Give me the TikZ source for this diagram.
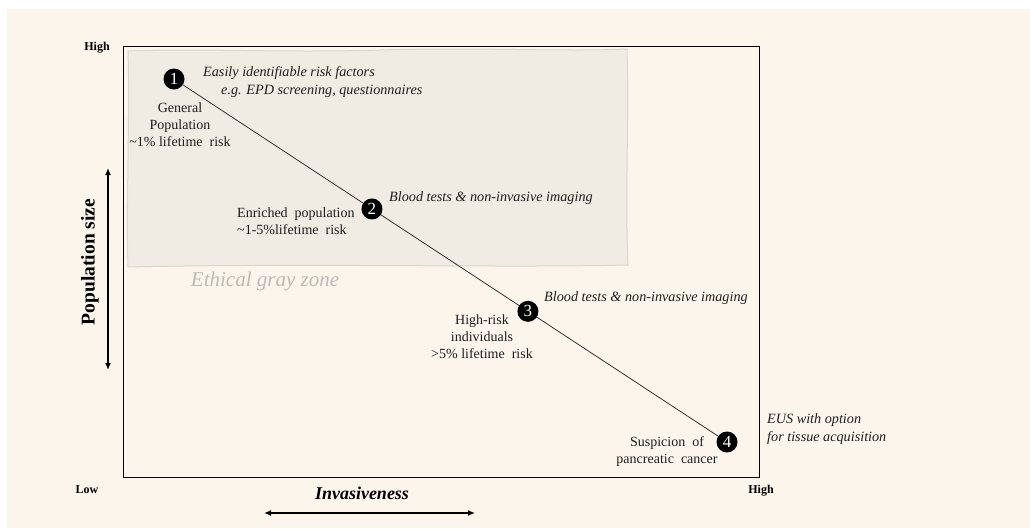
\documentclass[tikz,border=0pt]{standalone}
\usepackage{fontspec}
\setmainfont{Liberation Serif}
\usetikzlibrary{calc,arrows.meta}
\definecolor{cream}{HTML}{FBF5EC}
\definecolor{zonefill}{HTML}{F0EBE3}
\definecolor{zoneedge}{HTML}{DAD6CE}
\definecolor{zonetext}{HTML}{BDBAB5}
\definecolor{txt}{HTML}{1E1E1E}
\tikzset{
  num/.style={circle,fill=black,minimum size=21pt,inner sep=0pt,text=white,font=\fontsize{17}{17}\selectfont},
  lbl/.style={text=txt,font=\fontsize{14}{17}\selectfont,inner sep=0pt},
  ilbl/.style={text=txt,font=\fontsize{14.2}{18}\selectfont\itshape,inner sep=0pt},
  axlbl/.style={font=\fontsize{12}{14}\selectfont\bfseries,inner sep=0pt},
  bigarrow/.style={line width=2pt,{Latex[length=7pt,width=6pt]}-{Latex[length=7pt,width=6pt]}},
}
\begin{document}
\begin{tikzpicture}[x=1pt,y=-1pt]
\useasboundingbox (0,0) rectangle (1030,528);
\fill[white] (0,0) rectangle (1030,528);
\fill[cream] (7,9) rectangle (1030,528);
% gray zone
\path[fill=zonefill,draw=zoneedge,line width=1pt]
  (128,51) .. controls (200,48) and (280,53) .. (380,50)
  .. controls (480,47) and (560,52) .. (627,49)
  .. controls (629,120) and (625,200) .. (628,265)
  .. controls (500,268) and (300,263) .. (128,267)
  .. controls (126,200) and (130,120) .. cycle;
% frame
\draw[black,line width=1pt] (123,46) rectangle (759,477);
% points
\node[num] (n1) at (174,79) {1};
\node[num] (n4) at (727,442) {4};
\draw[black!80,line width=0.8pt] (n1) -- (n4);
\node[num] (n2) at ($(n1)!0.358!(n4)$) {2};
\node[num] (n3) at ($(n1)!0.640!(n4)$) {3};
% labels
\node[axlbl] (hy) at (97,48) {High};
\node[axlbl] (lo) at (87,490) {Low};
\node[axlbl] (hx) at (761,491) {High};
\node[ilbl,anchor=west] (t1a) at (203,73) {Easily identifiable risk factors};
\node[ilbl,anchor=west] (t1b) at (221,91) {e.g. EPD screening, questionnaires};
\node[lbl,align=center] (g1) at (180,125) {General\\Population\\\textasciitilde1\% lifetime\ \ risk};
\node[lbl,align=left,anchor=west] (g2) at (237,221) {Enriched\ \ population\\\textasciitilde1-5\%lifetime\ \ risk};
\node[ilbl,anchor=west] (t2) at (389,198) {Blood tests \& non-invasive imaging};
\node[text=zonetext,font=\fontsize{21}{23}\selectfont\itshape,inner sep=0pt] (ez) at (265,281) {Ethical gray zone};
\node[ilbl,anchor=west] (t3) at (544,298) {Blood tests \& non-invasive imaging};
\node[lbl,align=center] (g3) at (482,337) {High-risk\\individuals\\>5\% lifetime\ \ risk};
\node[ilbl,anchor=west,align=left] (t4) at (767,429) {EUS with option\\for tissue acquisition};
\node[lbl,align=center] (g4) at (667,452) {Suspicion\ \ of\\pancreatic\ \ cancer};
% axes titles
\node[font=\fontsize{18}{20}\selectfont\bfseries\itshape,inner sep=0pt] (inv) at (362,493) {Invasiveness};
\coordinate (ha) at (264,513);
\coordinate (hb) at (475,513);
\draw[bigarrow] (ha) -- (hb);
\node[font=\fontsize{19.5}{22}\selectfont\bfseries,inner sep=0pt,rotate=90] (pop) at (90,262) {Population size};
\coordinate (va) at (108,168);
\coordinate (vb) at (108,370);
\draw[bigarrow] (va) -- (vb);
\end{tikzpicture}
\end{document}
